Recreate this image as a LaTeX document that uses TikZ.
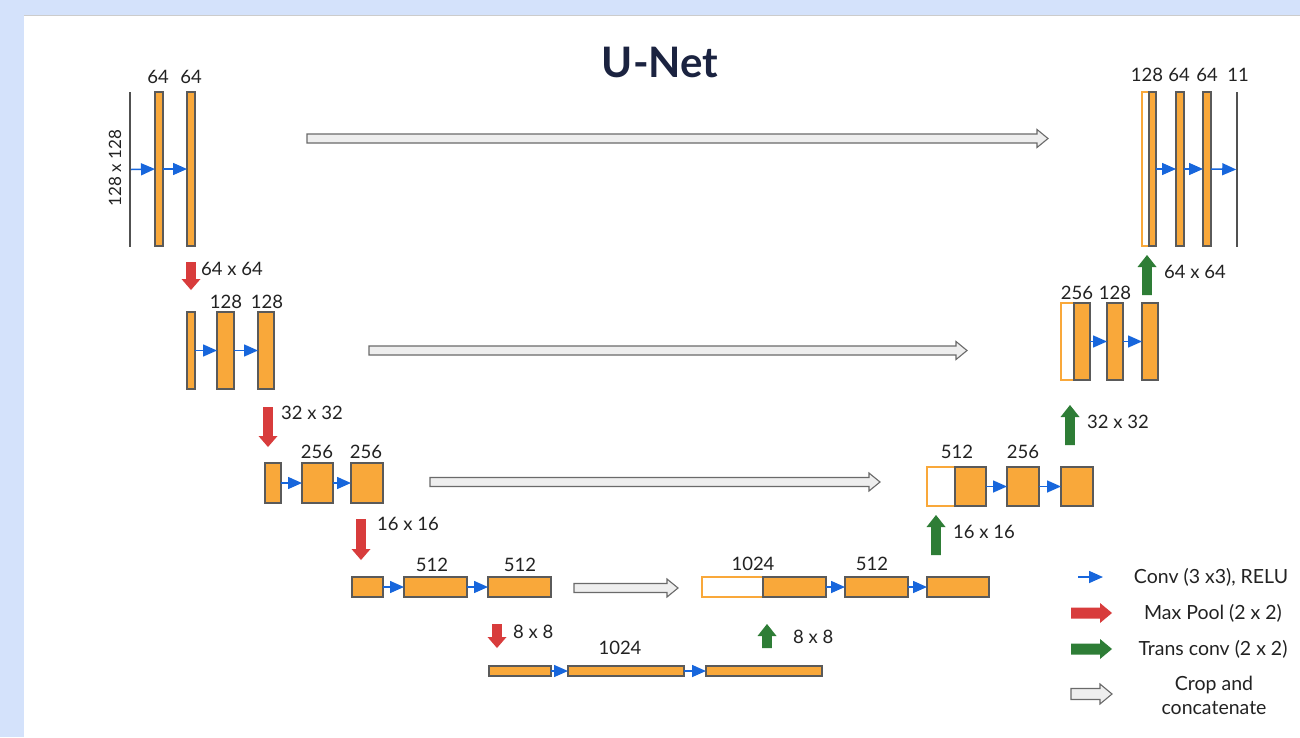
\documentclass[tikz,border=0pt]{standalone}
\usepackage{fontspec}
\setmainfont{Lato}
\usetikzlibrary{arrows.meta}
\definecolor{bgblue}{HTML}{D4E2FB}
\definecolor{boxor}{HTML}{F9A83A}
\definecolor{boxedge}{HTML}{5A5A5A}
\definecolor{convblue}{HTML}{1766DC}
\definecolor{poolred}{HTML}{D83C3C}
\definecolor{upgreen}{HTML}{2E7D36}
\definecolor{cropfill}{HTML}{EEEEEE}
\definecolor{cropedge}{HTML}{6A6A6A}
\definecolor{txt}{HTML}{222222}
\definecolor{titlec}{HTML}{1B2340}
% box: [style] x1 y1 x2 y2 name
\newcommand{\ubox}[6][]{\node[box,#1,anchor=north west,minimum width={(#4-#2)*1pt},minimum height={(#5-#3)*1pt}] (#6) at (#2,#3) {};}
% horizontal block arrow: style x1 x2 y shafthalf headhalf headlen
\newcommand{\harrow}[7]{\draw[#1] (#2,{#4-#5}) -- ({#3-#7},{#4-#5}) -- ({#3-#7},{#4-#6}) -- (#3,#4) -- ({#3-#7},{#4+#6}) -- ({#3-#7},{#4+#5}) -- (#2,{#4+#5}) -- cycle;}
% down block arrow: style x y1 y2 shafthalf headhalf headlen
\newcommand{\darrow}[7]{\fill[#1] ({#2-#5},#3) -- ({#2-#5},{#4-#7}) -- ({#2-#6},{#4-#7}) -- (#2,#4) -- ({#2+#6},{#4-#7}) -- ({#2+#5},{#4-#7}) -- ({#2+#5},#3) -- cycle;}
% up block arrow
\newcommand{\uarrow}[7]{\fill[#1] ({#2-#5},#3) -- ({#2-#5},{#4+#7}) -- ({#2-#6},{#4+#7}) -- (#2,#4) -- ({#2+#6},{#4+#7}) -- ({#2+#5},{#4+#7}) -- ({#2+#5},#3) -- cycle;}
\tikzset{
  box/.style={draw=boxedge, fill=boxor, line width=1.1pt, inner sep=0pt, outer sep=0pt},
  catbox/.style={draw=boxor, fill=white, line width=1.1pt},
  edgeline/.style={draw=none, fill=boxedge!90!black},
  conv/.style={draw=convblue, line width=1.5pt, -{Triangle[length=14pt,width=12pt]}, shorten >=0pt},
  lbl/.style={font=\fontsize{18.5}{21}\selectfont, text=txt, inner sep=0pt},
  leg/.style={font=\fontsize{19.5}{24}\selectfont, text=txt, inner sep=0pt, align=center},
  pool/.style={fill=poolred},
  up/.style={fill=upgreen},
  crop/.style={fill=cropfill, draw=cropedge, line width=1.1pt, line join=miter},
}
\begin{document}
\begin{tikzpicture}[x=1pt,y=-1pt]
\useasboundingbox (0,0) rectangle (1300,737);
\fill[bgblue] (0,0) rectangle (1300,737);
\fill[white] (24,15) rectangle (1300,737);
\draw[black!20, line width=1pt] (24,15) -- (1300,15);

\node[font=\fontsize{42}{48}\selectfont\bfseries, text=titlec, inner sep=0pt] (title) at (660,62) {U-Net};

% ---------- level 1 left
\ubox[edgeline]{129.2}{92}{131.2}{247}{L1in}
\ubox{155}{92}{163}{246}{L1a}
\ubox{187}{92}{195}{246}{L1b}
\node[lbl] (t1a) at (158,77) {64};
\node[lbl] (t1b) at (191,77) {64};
\node[lbl, rotate=90, font=\fontsize{17}{20}\selectfont] (t1in) at (115,168) {128 x 128};
\draw[conv] (L1in.east) -- (L1a.west);
\draw[conv] (L1a.east) -- (L1b.west);

% ---------- level 2 left
\ubox{187}{312}{195}{389}{L2a}
\ubox{217}{312}{234}{389}{L2b}
\ubox{258}{312}{274}{389}{L2c}
\node[lbl] (t2b) at (226,302) {128};
\node[lbl] (t2c) at (267,302) {128};
\draw[conv] (L2a.east) -- (L2b.west);
\draw[conv] (L2b.east) -- (L2c.west);

% ---------- level 3 left
\ubox{265}{463}{281}{503}{L3a}
\ubox{302}{463}{333}{503}{L3b}
\ubox{351}{463}{383}{503}{L3c}
\node[lbl] (t3b) at (317,452) {256};
\node[lbl] (t3c) at (366,452) {256};
\draw[conv] (L3a.east) -- (L3b.west);
\draw[conv] (L3b.east) -- (L3c.west);

% ---------- level 4 left
\ubox{352}{577}{383}{597}{L4a}
\ubox{404}{577}{467}{597}{L4b}
\ubox{488}{577}{551}{597}{L4c}
\node[lbl] (t4b) at (432,565) {512};
\node[lbl] (t4c) at (520,565) {512};
\draw[conv] (L4a.east) -- (L4b.west);
\draw[conv] (L4b.east) -- (L4c.west);

% ---------- bottom
\ubox{489}{666}{551}{676}{B1}
\ubox{568}{666}{684}{676}{B2}
\ubox{706}{666}{822}{676}{B3}
\node[lbl] (t5) at (620,648) {1024};
\draw[conv] (B1.east) -- (B2.west);
\draw[conv] (B2.east) -- (B3.west);

% ---------- level 4 right
\ubox[catbox]{702}{577}{763}{597}{R4w}
\ubox{763}{577}{826}{597}{R4a}
\ubox{845}{577}{908}{597}{R4b}
\ubox{927}{577}{989}{597}{R4c}
\node[lbl] (tr4a) at (753,564) {1024};
\node[lbl] (tr4b) at (872,564) {512};
\draw[conv] (R4a.east) -- (R4b.west);
\draw[conv] (R4b.east) -- (R4c.west);

% ---------- level 3 right
\ubox[catbox]{927}{467}{955}{506}{R3w}
\ubox{955}{467}{986}{506}{R3a}
\ubox{1007}{467}{1039}{506}{R3b}
\ubox{1061}{467}{1093}{506}{R3c}
\node[lbl] (tr3a) at (957,452) {512};
\node[lbl] (tr3b) at (1023,452) {256};
\draw[conv] (R3a.east) -- (R3b.west);
\draw[conv] (R3b.east) -- (R3c.west);

% ---------- level 2 right
\ubox[catbox]{1061}{303}{1074}{380}{R2w}
\ubox{1074}{303}{1090}{380}{R2a}
\ubox{1107}{303}{1123}{380}{R2b}
\ubox{1142}{303}{1158}{380}{R2c}
\node[lbl] (tr2a) at (1077,293) {256};
\node[lbl] (tr2b) at (1115,293) {128};
\draw[conv] (R2a.east) -- (R2b.west);
\draw[conv] (R2b.east) -- (R2c.west);

% ---------- level 1 right
\ubox[catbox]{1142}{92}{1149}{246}{R1w}
\ubox{1149}{92}{1156}{246}{R1a}
\ubox{1176}{92}{1184}{246}{R1b}
\ubox{1203}{92}{1211}{246}{R1c}
\ubox[edgeline]{1236.2}{92}{1238.2}{247}{R1out}
\node[lbl] (tr1a) at (1147,75) {128};
\node[lbl] (tr1b) at (1179,75) {64};
\node[lbl] (tr1c) at (1207,75) {64};
\node[lbl] (tr1d) at (1238,75) {11};
\draw[conv] (R1a.east) -- (R1b.west);
\draw[conv] (R1b.east) -- (R1c.west);
\draw[conv] (R1c.east) -- (R1out.west);

% ---------- max pool arrows
\darrow{pool}{191}{262}{290}{4.8}{9.5}{11}
\darrow{pool}{268}{407}{447}{4.8}{9.5}{11}
\darrow{pool}{361}{519}{560}{4.8}{9.5}{11}
\darrow{pool}{497}{624}{648}{4.8}{9.5}{11}
\node[lbl, anchor=west] (p1) at (201,269) {64 x 64};
\node[lbl, anchor=west] (p2) at (281,413) {32 x 32};
\node[lbl, anchor=west] (p3) at (377,524) {16 x 16};
\node[lbl, anchor=west] (p4) at (513,632) {8 x 8};

% ---------- up-conv arrows
\uarrow{up}{767}{648}{624}{4.8}{9.5}{12}
\uarrow{up}{936}{555}{515}{4.8}{9.5}{12}
\uarrow{up}{1070}{445}{405}{4.8}{9.5}{12}
\uarrow{up}{1147}{295}{255}{4.8}{9.5}{12}
\node[lbl, anchor=west] (u1) at (793,637) {8 x 8};
\node[lbl, anchor=west] (u2) at (953,532) {16 x 16};
\node[lbl, anchor=west] (u3) at (1087,422) {32 x 32};
\node[lbl, anchor=west] (u4) at (1164,272) {64 x 64};

% ---------- crop and concatenate arrows
\harrow{crop}{307}{1048}{138.5}{4.5}{9}{11}
\harrow{crop}{369}{967}{350.5}{4.5}{9}{11}
\harrow{crop}{430}{880}{482}{4.5}{9}{11}
\harrow{crop}{574}{678}{588}{4.5}{9}{11}

% ---------- legend
\coordinate (lg1a) at (1078,577);
\coordinate (lg1b) at (1103,577);
\draw[conv] (lg1a) -- (lg1b);
\node[leg] (lt1) at (1211,577) {Conv (3 x3), RELU};
\harrow{pool,draw=none}{1071}{1112}{613}{5.5}{10}{12}
\node[leg] (lt2) at (1213,613) {Max Pool (2 x 2)};
\harrow{up,draw=none}{1071}{1112}{649}{5.5}{10}{12}
\node[leg] (lt3) at (1213,649) {Trans conv (2 x 2)};
\harrow{crop}{1071}{1112}{694}{5.5}{10}{12}
\node[leg] (lt4) at (1214,695) {Crop and\\concatenate};
\end{tikzpicture}
\end{document}
